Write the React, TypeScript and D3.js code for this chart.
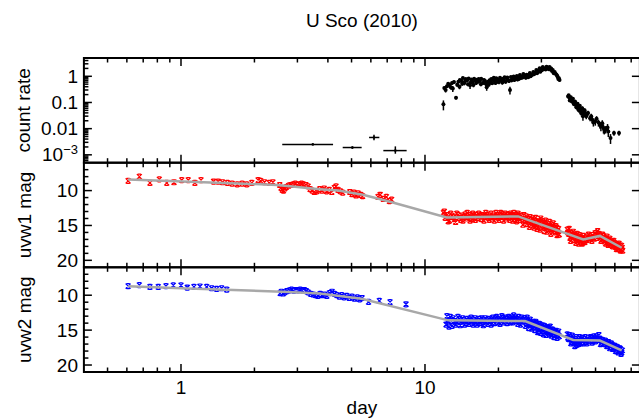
import React from "react";
import * as d3 from "d3";

const W = 639;
const H = 419;

// X-ray early points: day, dayLo, dayHi, rate, rateLo, rateHi
const xrayEarly = [
  [3.47, 2.6, 4.2, 0.0025, 0.0025, 0.0025],
  [5.04, 4.6, 5.5, 0.0019, 0.0017, 0.0021],
  [6.18, 5.9, 6.5, 0.0046, 0.0036, 0.0058],
  [7.56, 6.75, 8.41, 0.00145, 0.0011, 0.0021],
];

// X-ray main: day, rate, err
const xrayMain = [
  [11.9, 0.085, 0.035], [12.0, 0.36, 0.05], [12.3, 0.42, 0.06], [12.6, 0.47, 0.07], [12.9, 0.55, 0.08],
  [13.0, 0.34, 0.09], [13.4, 0.15, 0.02], [13.7, 0.62, 0.08], [13.9, 0.72, 0.09], [14.1, 0.66, 0.08],
  [14.3, 0.86, 0.1], [14.5, 0.55, 0.1], [14.7, 0.78, 0.08], [14.9, 0.7, 0.09], [15.1, 0.82, 0.1],
  [15.3, 0.45, 0.12], [15.5, 0.75, 0.09], [15.7, 0.61, 0.08], [15.9, 0.8, 0.09], [16.1, 0.7, 0.08],
  [16.3, 0.74, 0.09], [16.5, 0.62, 0.09], [16.8, 0.66, 0.08], [17.0, 0.8, 0.1], [17.3, 0.56, 0.08],
  [17.6, 0.68, 0.1], [17.9, 0.38, 0.1], [18.1, 0.62, 0.1], [18.4, 0.7, 0.09], [18.7, 0.78, 0.1],
  [19.0, 0.72, 0.09], [19.3, 0.66, 0.1], [19.6, 0.84, 0.1], [19.9, 0.74, 0.09], [20.3, 0.88, 0.1],
  [20.6, 0.7, 0.12], [20.9, 0.8, 0.1], [21.2, 0.92, 0.1], [21.6, 0.84, 0.11], [21.9, 0.72, 0.12],
  [22.3, 0.3, 0.1], [22.5, 0.95, 0.11], [22.8, 0.88, 0.11], [23.1, 0.98, 0.12], [23.4, 0.82, 0.12],
  [23.8, 1.02, 0.13], [24.1, 0.9, 0.12], [24.5, 1.12, 0.14], [24.9, 0.96, 0.12], [25.3, 1.22, 0.15],
  [25.7, 1.05, 0.14], [26.1, 1.15, 0.15], [26.5, 0.92, 0.13], [26.9, 1.33, 0.16], [27.3, 1.18, 0.15],
  [27.8, 1.46, 0.18], [28.2, 1.3, 0.16], [28.6, 1.74, 0.2], [29.0, 1.5, 0.18], [29.5, 2.05, 0.22],
  [29.9, 1.8, 0.2], [30.4, 2.25, 0.25], [30.9, 2.0, 0.22], [31.5, 2.3, 0.25], [32.0, 2.1, 0.22],
  [32.4, 2.25, 0.24], [32.9, 2.0, 0.22], [33.4, 1.75, 0.2], [34.0, 1.45, 0.18], [34.6, 1.15, 0.14],
  [35.0, 0.95, 0.12], [35.4, 0.84, 0.1],
  [12.15, 0.3, 0.06], [12.45, 0.52, 0.08], [12.75, 0.38, 0.07], [13.15, 0.6, 0.09], [13.55, 0.48, 0.08],
  [13.85, 0.4, 0.08], [14.2, 0.52, 0.08], [14.6, 0.64, 0.09], [15.0, 0.5, 0.08], [15.4, 0.58, 0.09],
  [15.8, 0.46, 0.08], [16.2, 0.55, 0.09], [16.6, 0.78, 0.1], [16.95, 0.5, 0.08], [17.45, 0.72, 0.1],
  [17.75, 0.52, 0.09], [18.25, 0.48, 0.08], [18.55, 0.58, 0.09], [18.85, 0.54, 0.08], [19.15, 0.88, 0.1],
  [19.45, 0.56, 0.09], [19.75, 0.62, 0.09], [20.1, 0.6, 0.1], [20.45, 0.76, 0.1], [20.75, 0.58, 0.1],
  [21.05, 0.68, 0.1], [21.4, 0.62, 0.1], [21.75, 0.9, 0.11], [22.1, 0.66, 0.1], [22.65, 0.7, 0.11],
  [22.95, 0.78, 0.11], [23.25, 0.72, 0.11], [23.6, 0.88, 0.12], [23.95, 0.76, 0.11], [24.3, 0.8, 0.12],
  [24.7, 0.86, 0.12], [25.1, 0.9, 0.13], [25.5, 0.98, 0.13], [25.9, 0.88, 0.13], [26.3, 1.05, 0.14],
  [26.7, 1.1, 0.14], [27.1, 1.0, 0.14], [27.55, 1.15, 0.15], [28.0, 1.2, 0.15], [28.4, 1.4, 0.17],
  [28.8, 1.3, 0.16], [29.25, 1.6, 0.18], [29.7, 1.5, 0.18], [30.15, 1.7, 0.2], [30.65, 1.9, 0.2],
  [31.2, 1.8, 0.2], [31.75, 2.0, 0.22], [32.2, 1.85, 0.2], [32.65, 1.8, 0.2], [33.15, 1.6, 0.2],
  [33.7, 1.3, 0.16], [34.3, 1.25, 0.15], [34.8, 1.05, 0.13], [35.2, 0.78, 0.1], [35.6, 0.72, 0.1],
  [38.6, 0.17, 0.02], [39.0, 0.16, 0.02], [39.4, 0.14, 0.02], [39.8, 0.13, 0.015], [40.2, 0.11, 0.015],
  [40.6, 0.1, 0.015], [41.0, 0.09, 0.014], [41.5, 0.08, 0.012], [42.0, 0.07, 0.012], [42.4, 0.058, 0.01],
  [42.9, 0.064, 0.01], [43.4, 0.05, 0.01], [43.9, 0.042, 0.009], [44.4, 0.03, 0.01], [44.9, 0.045, 0.009],
  [45.5, 0.038, 0.008], [46.2, 0.036, 0.008], [47.5, 0.025, 0.006], [48.5, 0.022, 0.006], [49.9, 0.019, 0.006],
  [51.4, 0.017, 0.005], [52.6, 0.012, 0.004], [53.9, 0.0105, 0.004], [55.0, 0.0095, 0.003], [56.4, 0.0078, 0.003],
  [57.6, 0.0044, 0.0018], [59.5, 0.0068, 0.0015], [62.4, 0.0068, 0.0015],
  [38.8, 0.19, 0.02], [39.2, 0.12, 0.015], [39.6, 0.16, 0.02], [40.0, 0.11, 0.015], [40.4, 0.14, 0.018],
  [40.8, 0.085, 0.012], [41.2, 0.11, 0.014], [41.7, 0.065, 0.01], [42.2, 0.09, 0.012], [42.7, 0.05, 0.009],
  [43.1, 0.075, 0.01], [43.6, 0.04, 0.008], [44.1, 0.06, 0.01], [44.6, 0.035, 0.008], [45.1, 0.05, 0.009],
  [45.8, 0.03, 0.007], [46.6, 0.04, 0.008], [48.0, 0.03, 0.007], [49.0, 0.017, 0.005], [50.5, 0.024, 0.006],
  [52.2, 0.014, 0.004], [53.3, 0.016, 0.005], [54.3, 0.009, 0.003], [56.0, 0.011, 0.004],
];

// uvw1: day, mag
const uvw1Points = [
  [0.607, 8.6], [0.675, 8.0], [0.746, 8.9], [0.815, 8.4], [0.874, 8.9], [0.936, 8.8], [1.007, 8.5], [1.071, 8.5],
  [1.14, 8.9], [1.208, 8.5], [1.36, 8.7], [1.42, 8.7], [1.48, 8.8], [1.55, 8.9], [1.62, 9.0], [1.7, 9.1],
  [1.78, 9.0], [1.86, 9.1], [1.95, 8.9], [2.07, 8.5], [2.12, 8.6], [2.2, 8.8], [2.3, 8.9], [2.38, 8.8],
  [2.54, 9.2], [2.57, 9.6], [2.6, 9.9], [2.63, 10.0], [2.66, 9.7], [2.7, 9.5], [2.76, 9.3], [2.82, 9.2],
  [2.88, 9.1], [2.94, 9.0], [3.0, 9.2], [3.06, 9.1], [3.12, 9.0], [3.18, 9.1], [3.25, 9.2], [3.32, 9.4],
  [3.38, 9.8], [3.45, 10.0], [3.52, 10.2], [3.6, 10.1],
  [3.7, 9.8], [3.78, 10.0], [3.86, 9.7], [3.95, 10.1], [4.05, 9.9], [4.15, 10.2], [4.25, 9.6], [4.32, 9.4],
  [4.4, 9.9], [4.5, 10.1], [4.6, 10.3], [4.92, 10.2], [5.02, 10.5], [5.12, 10.3], [5.22, 10.7], [5.32, 10.4],
  [5.45, 10.6], [5.55, 10.8], [6.42, 10.9], [6.55, 10.6], [6.75, 11.2], [6.95, 10.9], [7.15, 11.5], [7.3, 11.3],
  [11.9, 13.2], [12.1, 13.9], [12.3, 13.5], [12.6, 14.3], [12.9, 13.6], [13.2, 14.1], [13.5, 13.3], [13.8, 13.9],
  [14.0, 14.2], [14.2, 13.6], [14.4, 13.8], [14.6, 13.4], [14.8, 14.0], [15.0, 13.7], [15.2, 13.5], [15.4, 13.9],
  [15.6, 14.1], [15.8, 13.6], [16.0, 13.8], [16.2, 13.5], [16.5, 13.9], [16.8, 13.7], [17.0, 14.1], [17.3, 13.6],
  [17.6, 13.8], [17.9, 13.5], [18.2, 13.9], [18.5, 13.7], [18.8, 14.0], [19.1, 13.6], [19.4, 13.8], [19.7, 13.5],
  [20.0, 13.9], [20.3, 13.7], [20.6, 13.4], [20.9, 13.8], [21.2, 13.6], [21.5, 14.0], [21.8, 13.5], [22.1, 13.7],
  [22.4, 13.3], [22.7, 13.8], [23.0, 13.6], [23.3, 14.1], [23.6, 13.5], [23.9, 13.9], [24.2, 13.6], [24.5, 14.2],
  [12.0, 13.0], [12.45, 14.4], [12.75, 13.3], [13.05, 13.8], [13.35, 14.5], [13.65, 13.5], [14.3, 14.3], [14.9, 13.2],
  [15.3, 14.3], [15.7, 13.3], [16.1, 14.2], [16.6, 13.3], [17.1, 13.5], [17.45, 14.3], [17.75, 13.2], [18.35, 14.2],
  [18.65, 13.3], [19.25, 14.3], [19.55, 13.2], [20.15, 14.2], [20.45, 13.2], [21.0, 14.3], [21.35, 13.3], [21.65, 13.8],
  [22.25, 14.2], [22.55, 13.5], [22.85, 14.3], [23.15, 13.2], [23.45, 13.8], [23.75, 14.4], [24.05, 13.3], [24.35, 13.9],
  [24.75, 13.6],
  [25.0, 14.0], [25.4, 13.5], [25.8, 14.4], [26.2, 14.8], [26.6, 14.1], [27.0, 13.8], [27.4, 14.6], [27.8, 15.0],
  [28.2, 14.3], [28.6, 14.7], [29.0, 15.2], [29.4, 14.5], [29.8, 14.0], [30.2, 14.9], [30.6, 15.3], [31.0, 14.6],
  [31.4, 15.0], [31.8, 15.5], [32.2, 14.8], [32.6, 15.2], [33.0, 15.6], [33.4, 15.0], [33.8, 15.4], [34.2, 16.0],
  [34.6, 15.3], [35.0, 15.8], [35.5, 16.3],
  [25.2, 14.9], [25.6, 14.2], [26.0, 13.7], [26.4, 14.4], [26.8, 15.2], [27.2, 14.2], [27.6, 14.0], [28.0, 15.3],
  [28.4, 13.9], [28.8, 15.5], [29.2, 14.4], [29.6, 15.6], [30.0, 14.3], [30.4, 14.6], [30.8, 15.8], [31.2, 14.3],
  [31.6, 15.9], [32.0, 15.1], [32.4, 14.5], [32.8, 16.2], [33.2, 15.3], [33.6, 14.7], [34.0, 15.8], [34.4, 15.1],
  [34.8, 16.4], [35.3, 15.5],
  [38.3, 15.6], [38.8, 16.2], [39.3, 16.8], [39.8, 16.1], [40.3, 16.5], [40.8, 17.1], [41.3, 16.4], [41.8, 16.8],
  [42.3, 17.3], [42.8, 16.6], [43.3, 17.0], [43.8, 17.5], [44.3, 16.8], [44.8, 17.2], [45.5, 16.9], [46.2, 16.6],
  [47.0, 17.0], [47.8, 16.7], [48.6, 16.4], [49.4, 16.9], [50.2, 16.3], [51.0, 15.8], [51.6, 16.2],
  [38.5, 16.0], [39.0, 15.5], [39.5, 17.2], [40.0, 16.6], [40.5, 15.9], [41.0, 16.3], [41.5, 17.5], [42.0, 16.2],
  [42.6, 17.6], [43.1, 16.4], [43.6, 16.9], [44.1, 17.6], [44.6, 16.5], [45.2, 17.4], [46.0, 17.1], [46.8, 16.3],
  [47.5, 16.8], [48.3, 17.2], [49.0, 16.7], [49.8, 16.1], [50.6, 16.8], [51.3, 16.5],
  [52.3, 16.6], [53.0, 17.0], [53.8, 16.5], [54.5, 17.3], [55.3, 16.9], [56.0, 17.5], [56.8, 17.1], [57.5, 17.7],
  [58.3, 17.3], [59.0, 17.9], [59.8, 17.5], [60.5, 18.1], [61.3, 17.7], [62.0, 18.3], [62.8, 17.9], [63.5, 18.5],
  [64.3, 18.2],
  [52.6, 17.2], [53.4, 16.3], [54.2, 16.8], [55.0, 17.6], [55.7, 16.6], [56.4, 17.8], [57.2, 16.9], [57.9, 17.4],
  [58.7, 18.0], [59.4, 17.2], [60.2, 17.8], [60.9, 18.4], [61.7, 18.0], [62.4, 17.6], [63.2, 18.6], [63.9, 17.9],
  [64.6, 18.6],
];

const uvw1Model = [
  [0.607, 8.4], [1.5, 8.9], [2.47, 9.2], [3.0, 9.5], [3.7, 9.8], [4.4, 10.0], [5.57, 10.6], [7.19, 11.6],
  [12.27, 13.85], [24.1, 13.7], [44.5, 17.0], [52.1, 16.5], [64.0, 18.2],
];

// uvw2: day, mag
const uvw2Points = [
  [0.607, 8.7], [0.675, 8.55], [0.746, 8.8], [0.807, 8.8], [0.868, 8.7], [0.93, 8.6], [1.0, 8.6], [1.061, 8.9],
  [1.13, 8.8], [1.196, 8.75], [1.274, 8.8], [1.336, 9.0], [1.4, 9.1], [1.468, 9.0], [1.54, 9.2],
  [2.55, 9.7], [2.58, 9.5], [2.62, 9.75], [2.66, 9.6], [2.72, 9.4], [2.78, 9.3], [2.84, 9.2], [2.9, 9.35],
  [2.96, 9.25], [3.02, 9.3], [3.08, 9.2], [3.14, 9.3], [3.2, 9.25], [3.26, 9.4], [3.32, 9.6], [3.4, 9.8],
  [3.48, 9.9], [3.56, 10.0], [3.64, 10.1],
  [3.72, 9.8], [3.8, 10.0], [3.88, 9.9], [3.96, 10.1], [4.06, 9.7], [4.16, 9.5], [4.26, 9.8], [4.36, 10.0],
  [4.46, 10.2], [4.56, 10.0], [4.66, 10.3], [4.78, 10.1], [4.9, 10.4], [5.02, 10.2], [5.15, 10.5], [5.28, 10.3],
  [5.4, 10.6], [5.52, 10.4], [5.87, 10.95], [6.5, 10.8], [7.19, 11.0], [8.36, 11.3],
  [12.2, 14.2], [12.4, 13.6], [12.7, 13.1], [12.9, 14.4], [13.2, 13.7], [13.5, 13.9], [13.8, 13.4], [14.1, 13.8],
  [14.4, 13.6], [14.7, 14.0], [15.0, 13.7], [15.3, 13.5], [15.6, 13.8], [15.9, 13.6], [16.2, 13.9], [16.5, 13.7],
  [16.9, 14.0], [17.2, 13.8], [17.5, 13.6], [17.8, 13.9], [18.1, 14.1], [18.5, 13.7], [18.8, 13.5], [19.1, 13.8],
  [19.5, 13.3], [19.8, 13.6], [20.1, 13.9], [20.5, 13.5], [20.8, 13.2], [21.2, 13.6], [21.5, 13.4], [21.9, 13.7],
  [22.2, 13.3], [22.6, 13.6], [22.9, 13.9], [23.3, 13.5], [23.6, 13.7], [24.0, 14.1], [24.4, 13.6], [24.8, 13.8],
  [25.2, 13.5],
  [12.3, 13.0], [12.55, 14.5], [12.8, 13.7], [13.05, 13.3], [13.35, 14.2], [13.65, 13.1], [13.95, 14.3], [14.25, 13.3],
  [14.55, 14.2], [14.85, 13.4], [15.15, 14.1], [15.45, 13.2], [15.75, 14.2], [16.05, 13.3], [16.35, 14.2], [16.7, 13.4],
  [17.05, 13.3], [17.35, 14.3], [17.65, 13.3], [17.95, 13.6], [18.3, 13.4], [18.65, 14.2], [18.95, 13.2], [19.3, 14.0],
  [19.65, 13.1], [19.95, 13.4], [20.3, 14.1], [20.65, 13.0], [21.0, 13.9], [21.35, 13.2], [21.7, 14.0], [22.05, 13.1],
  [22.4, 13.9], [22.75, 13.2], [23.1, 12.9], [23.45, 13.2], [23.8, 13.4], [24.2, 13.1], [24.6, 14.2], [25.0, 13.2],
  [25.6, 13.3], [26.0, 14.0], [26.4, 13.6], [26.8, 14.3], [27.2, 13.9], [27.6, 14.6], [28.0, 14.1], [28.4, 13.8],
  [28.8, 14.5], [29.2, 14.9], [29.6, 14.2], [30.0, 14.7], [30.4, 15.1], [30.8, 14.4], [31.2, 14.8], [31.6, 15.3],
  [32.0, 14.6], [32.4, 15.0], [32.8, 15.5], [33.2, 14.9], [33.6, 15.3], [34.0, 15.7], [34.5, 15.1], [35.0, 15.5],
  [35.5, 15.9],
  [25.8, 14.4], [26.2, 13.2], [26.6, 14.7], [27.0, 13.5], [27.4, 14.8], [27.8, 13.8], [28.2, 15.0], [28.6, 14.0],
  [29.0, 15.3], [29.4, 14.1], [29.8, 15.4], [30.2, 14.3], [30.6, 15.6], [31.0, 14.5], [31.4, 15.7], [31.8, 14.7],
  [32.2, 15.5], [32.6, 14.5], [33.0, 15.8], [33.4, 15.0], [33.8, 16.0], [34.2, 15.3], [34.8, 16.1], [35.3, 15.2],
  [38.3, 15.6], [38.8, 16.3], [39.3, 16.0], [39.8, 16.7], [40.3, 16.2], [40.8, 16.9], [41.3, 16.5], [41.8, 17.1],
  [42.3, 16.6], [42.8, 16.3], [43.3, 16.8], [43.8, 16.4], [44.4, 16.7], [45.0, 16.3], [45.7, 16.6], [46.4, 16.2],
  [47.2, 16.5], [48.0, 16.1], [48.8, 16.6], [49.6, 16.3], [50.4, 15.9], [51.2, 16.4],
  [38.5, 16.1], [39.0, 15.7], [39.6, 16.9], [40.1, 15.8], [40.6, 16.5], [41.1, 17.3], [41.6, 16.0], [42.0, 16.8],
  [42.6, 17.0], [43.0, 16.0], [43.6, 16.9], [44.1, 16.1], [44.7, 16.9], [45.4, 16.0], [46.1, 16.9], [46.8, 16.5],
  [47.6, 16.0], [48.4, 16.8], [49.2, 15.9], [50.0, 16.6], [50.8, 16.2], [51.6, 15.7],
  [52.0, 16.2], [52.8, 16.8], [53.6, 16.5], [54.4, 17.0], [55.2, 16.7], [56.0, 17.2], [56.8, 16.9], [57.6, 17.4],
  [58.4, 17.1], [59.2, 17.6], [60.0, 17.3], [60.8, 17.8], [61.6, 17.5], [62.4, 18.0], [63.2, 17.7], [64.0, 18.2],
  [52.4, 17.0], [53.2, 16.4], [54.0, 16.9], [54.8, 16.5], [55.6, 17.3], [56.4, 16.7], [57.2, 17.6], [58.0, 16.9],
  [58.8, 17.7], [59.6, 17.2], [60.4, 18.0], [61.2, 17.4], [62.0, 18.2], [62.8, 17.6], [63.6, 18.4], [64.4, 17.9],
];

const uvw2Model = [
  [0.607, 8.7], [1.0, 9.0], [2.6, 9.5], [3.7, 9.75], [5.5, 10.5], [12.46, 13.6], [25.7, 13.7],
  [40.5, 16.4], [52.1, 16.5], [64.0, 17.9],
];

const xMajorTicks = [1, 10];
const xMinorTicks = [0.5, 0.6, 0.7, 0.8, 0.9, 2, 3, 4, 5, 6, 7, 8, 9, 20, 30, 40, 50, 60, 70];
const rateMajorTicks = [0.001, 0.01, 0.1, 1];
const rateMinorTicks = [
  0.0006, 0.0007, 0.0008, 0.0009, 0.002, 0.003, 0.004, 0.005, 0.006, 0.007, 0.008, 0.009,
  0.02, 0.03, 0.04, 0.05, 0.06, 0.07, 0.08, 0.09, 0.2, 0.3, 0.4, 0.5, 0.6, 0.7, 0.8, 0.9, 2, 3, 4,
];
const magMajorTicks = [10, 15, 20];
const magMinorTicks = [7, 8, 9, 11, 12, 13, 14, 16, 17, 18, 19, 21];

const FONT = "'Liberation Sans', Arial, Helvetica, sans-serif";
const FS = 19;

const L = 83.9;
const R = 639.9;
const T0 = 58, T1 = 162.7, T2 = 267.3, T3 = 372;

export default function App() {
  const x = d3.scaleLog().domain([0.4, 76]).range([L, R]);
  const yTop = d3.scaleLog().domain([5e-4, 5]).range([T1, T0]);
  const yMid = d3.scaleLinear().domain([6, 21]).range([T1, T2]);
  const yBot = d3.scaleLinear().domain([6, 21]).range([T2, T3]);

  const MAJ = 8, MIN = 4.5;
  const panels = [
    { top: T0, bot: T1 },
    { top: T1, bot: T2 },
    { top: T2, bot: T3 },
  ];

  const modelLine = (ys: any) =>
    d3.line<number[]>().x((d) => x(d[0])).y((d) => ys(d[1]));

  const cross = (cx: number, cy: number, key: string, color: string) => {
    const s = 2.5;
    const c = 1.6;
    const d = `M${cx - s},${cy - s}L${cx + s},${cy + s}M${cx + s},${cy - s}L${cx - s},${cy + s}` +
      `M${cx - c},${cy - s}L${cx + c},${cy - s}M${cx - c},${cy + s}L${cx + c},${cy + s}`;
    return <path key={key} d={d} stroke={color} strokeWidth={1.2} fill="none" />;
  };

  return (
    <svg width={W} height={H} style={{ display: "block", position: "absolute", left: 0, top: 0, background: "#fff" }}>
      <rect x={0} y={0} width={W} height={H} fill="#fff" />
      <text x={(L + R) / 2} y={27} textAnchor="middle" fontFamily={FONT} fontSize={FS}>U Sco (2010)</text>

      {panels.map((p, i) => (
        <g key={"xt" + i} stroke="#000" strokeWidth={1.5}>
          {xMajorTicks.map((t) => (
            <g key={"M" + t}>
              <line x1={x(t)} x2={x(t)} y1={p.top} y2={p.top + MAJ} />
              <line x1={x(t)} x2={x(t)} y1={p.bot} y2={p.bot - MAJ} />
            </g>
          ))}
          {xMinorTicks.map((t) => (
            <g key={"m" + t}>
              <line x1={x(t)} x2={x(t)} y1={p.top} y2={p.top + MIN} />
              <line x1={x(t)} x2={x(t)} y1={p.bot} y2={p.bot - MIN} />
            </g>
          ))}
        </g>
      ))}

      <g stroke="#000" strokeWidth={1.5}>
        {rateMajorTicks.map((t) => (
          <g key={"rM" + t}>
            <line x1={L} x2={L + MAJ} y1={yTop(t)} y2={yTop(t)} />
            <line x1={R} x2={R - MAJ} y1={yTop(t)} y2={yTop(t)} />
          </g>
        ))}
        {rateMinorTicks.map((t) => (
          <line key={"rm" + t} x1={L} x2={L + MIN} y1={yTop(t)} y2={yTop(t)} />
        ))}
        {[yMid, yBot].map((ys, i) => (
          <g key={"mag" + i}>
            {magMajorTicks.map((t) => (
              <g key={"mM" + t}>
                <line x1={L} x2={L + MAJ} y1={ys(t)} y2={ys(t)} />
                <line x1={R} x2={R - MAJ} y1={ys(t)} y2={ys(t)} />
              </g>
            ))}
            {magMinorTicks.map((t) => (
              <line key={"mm" + t} x1={L} x2={L + MIN} y1={ys(t)} y2={ys(t)} />
            ))}
          </g>
        ))}
      </g>

      <g fontFamily={FONT} fontSize={FS} textAnchor="end">
        <text x={78} y={yTop(1)} dy="0.35em">1</text>
        <text x={78} y={yTop(0.1)} dy="0.35em">0.1</text>
        <text x={78} y={yTop(0.01)} dy="0.35em">0.01</text>
        <text x={78} y={yTop(0.001)} dy="0.35em">
          10<tspan fontSize={13} dy="-7">−3</tspan>
        </text>
        {[yMid, yBot].map((ys, i) =>
          magMajorTicks.map((t) => (
            <text key={i + "-" + t} x={78} y={ys(t)} dy="0.35em">{t}</text>
          ))
        )}
      </g>

      <g fontFamily={FONT} fontSize={FS} textAnchor="middle">
        {xMajorTicks.map((t) => (
          <text key={"xl" + t} x={x(t)} y={394}>{t}</text>
        ))}
        <text x={(L + R) / 2} y={414}>day</text>
      </g>

      <g fontFamily={FONT} fontSize={FS} textAnchor="middle">
        <text transform={`translate(30,${(T0 + T1) / 2}) rotate(-90)`}>count rate</text>
        <text transform={`translate(31,${(T1 + T2) / 2}) rotate(-90)`}>uvw1 mag</text>
        <text transform={`translate(31,${(T2 + T3) / 2}) rotate(-90)`}>uvw2 mag</text>
      </g>

      <g stroke="#000" fill="#000">
        {xrayEarly.map((d, i) => (
          <g key={"xe" + i}>
            <line x1={x(d[1])} x2={x(d[2])} y1={yTop(d[3])} y2={yTop(d[3])} strokeWidth={1.5} />
            <line x1={x(d[0])} x2={x(d[0])} y1={yTop(d[4])} y2={yTop(d[5])} strokeWidth={1.5} />
            <circle cx={x(d[0])} cy={yTop(d[3])} r={1.3} stroke="none" />
          </g>
        ))}
        {xrayMain.map((d, i) => (
          <g key={"xm" + i}>
            <line x1={x(d[0])} x2={x(d[0])} y1={yTop(Math.max(d[1] - d[2], 1e-5))} y2={yTop(d[1] + d[2])} strokeWidth={1.5} />
            <circle cx={x(d[0])} cy={yTop(d[1])} r={2} stroke="none" />
          </g>
        ))}
      </g>

      <g>{uvw1Points.map((d, i) => cross(x(d[0]), yMid(d[1]), "u1" + i, "#ff0000"))}</g>
      <path d={modelLine(yMid)(uvw1Model) || ""} fill="none" stroke="#a8a8a8" strokeWidth={2.5} />
      <g>{uvw2Points.map((d, i) => cross(x(d[0]), yBot(d[1]), "u2" + i, "#0000ff"))}</g>
      <path d={modelLine(yBot)(uvw2Model) || ""} fill="none" stroke="#a8a8a8" strokeWidth={2.5} />

      <g fill="none" stroke="#000" strokeWidth={2}>
        {panels.map((p, i) => (
          <rect key={"f" + i} x={L} y={p.top} width={R - L} height={p.bot - p.top} />
        ))}
      </g>
    </svg>
  );
}
